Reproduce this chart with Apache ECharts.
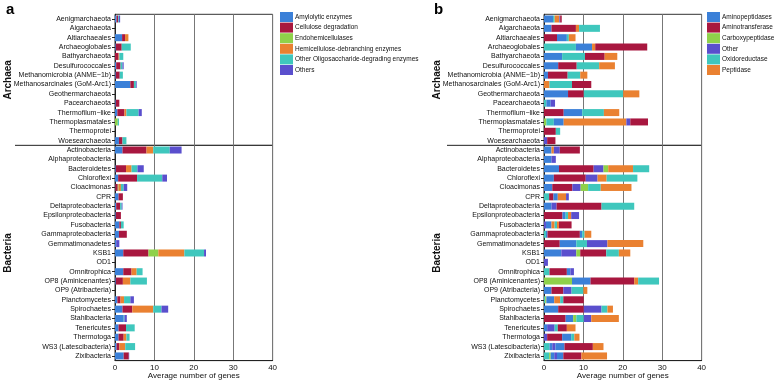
<!DOCTYPE html>
<html>
<head>
<meta charset="utf-8">
<script src="https://cdn.jsdelivr.net/npm/echarts@6/dist/echarts.min.js"></script>
<style>
  html, body { margin: 0; padding: 0; background: #fff; }
  #main { width: 778px; height: 383px; }
</style>
</head>
<body>
<div id="main"></div>
<script>
var archaea = ['Aenigmarchaeota', 'Aigarchaeota', 'Altiarchaeales', 'Archaeoglobales', 'Bathyarchaeota',
  'Desulfurococcales', 'Methanomicrobia (ANME\u22121b)', 'Methanosarcinales (GoM-Arc1)', 'Geothermarchaeota',
  'Pacearchaeota', 'Thermofilum\u2212like', 'Thermoplasmatales', 'Thermoprotei', 'Woesearchaeota'];
var bacteria = ['Actinobacteria', 'Alphaproteobacteria', 'Bacteroidetes', 'Chloroflexi', 'Cloacimonas', 'CPR',
  'Deltaproteobacteria', 'Epsilonproteobacteria', 'Fusobacteria', 'Gammaproteobacteria', 'Gemmatimonadetes',
  'KSB1', 'OD1', 'Omnitrophica', 'OP8 (Aminicenantes)', 'OP9 (Atribacteria)', 'Planctomycetes', 'Spirochaetes',
  'Stahlbacteria', 'Tenericutes', 'Thermotoga', 'WS3 (Latescibacteria)', 'Zixibacteria'];

// panel a : 14 archaea values, then 23 bacteria values
var amylolytic = [0.4, 0, 1.8, 0.2, 0, 0.3, 0.2, 3.9, 0, 0.2, 0.6, 0, 0, 1.0,
  1.9, 0, 0.2, 0.8, 0.1, 0.9, 0.3, 0.2, 1.1, 1.0, 0.3, 2.1, 0, 2.1, 0.2, 0, 0.6, 1.9, 2.2, 0.9, 0.9, 0.4, 2.2];
var cellulose = [0.4, 0, 0.75, 1.5, 0.9, 1.1, 1.0, 0.9, 0, 0.9, 1.8, 0, 0, 0.9,
  6.1, 0, 2.6, 4.8, 0.6, 1.1, 1.0, 1.3, 0.4, 2.0, 0, 6.4, 0, 2.1, 1.8, 0, 0.8, 2.5, 0, 1.9, 1.3, 0.7, 1.3];
var endohemi = [0, 0, 0, 0, 0, 0, 0, 0, 0, 0, 0, 0.7, 0, 0,
  0, 0, 0, 0, 0.2, 0, 0, 0, 0, 0, 0, 2.5, 0, 0, 0, 0, 0, 0, 0, 0, 0, 0, 0];
var hemideb = [0, 0, 0.85, 0, 0.2, 0, 0, 0, 0, 0, 0.5, 0, 0, 0,
  1.7, 0, 1.4, 0, 0.6, 0, 0, 0, 0, 0, 0, 6.6, 0, 1.3, 1.9, 0, 0.9, 5.3, 0, 0, 0.7, 1.5, 0];
var otherOligo = [0.2, 0, 0, 2.3, 1.0, 0.5, 0.8, 0.5, 0, 0, 3.1, 0.3, 0, 1.0,
  4.2, 0, 1.5, 6.4, 0.7, 0, 0.4, 0, 0.7, 0, 0, 5.0, 0, 1.5, 4.2, 0, 1.6, 2.1, 0.2, 2.2, 0.8, 2.5, 0];
var others = [0.3, 0, 0, 0, 0, 0.3, 0, 0.2, 0, 0, 0.8, 0, 0, 0,
  3.0, 0, 1.6, 1.2, 0.9, 0, 0.2, 0, 0, 0, 0.8, 0.5, 0, 0, 0, 0, 0.9, 1.7, 0.6, 0, 0, 0, 0.1];
var aNames = ['Amylolytic enzymes', 'Cellulose degradation', 'Endohemicellulases',
  'Hemicellulose-debranching enzymes', 'Other Oligosaccharide-degrading enzymes', 'Others'];
var aColors = ['#3b80d8', '#a8173f', '#8fd14a', '#ea8131', '#3fc7bd', '#5a4fcd'];

// panel b : each bar is a row of [class, length] segments, drawn in this order
var bNames = ['Aminopeptidases', 'Aminotransferase', 'Carboxypeptidase', 'Other', 'Oxidoreductase', 'Peptidase'];
var bKeys = ['A', 'T', 'C', 'O', 'X', 'P'];
var bArchaea = [
  [['A', 2.3], ['X', 0.4], ['P', 1.2], ['O', 0.2], ['T', 0.4]],
  [['A', 1.9], ['T', 6.2], ['P', 0.8], ['X', 5.3]],
  [['T', 3.3], ['A', 2.5], ['X', 0.5], ['P', 1.7]],
  [['X', 8.1], ['A', 4.1], ['P', 0.8], ['T', 13.2]],
  [['A', 4.6], ['X', 5.8], ['T', 5.0], ['P', 3.2]],
  [['A', 3.6], ['T', 4.7], ['X', 5.7], ['P', 4.0]],
  [['A', 1.0], ['T', 5.0], ['X', 3.2], ['P', 1.8]],
  [['P', 1.4], ['X', 5.7], ['T', 4.9]],
  [['A', 6.1], ['T', 4.0], ['X', 10.0], ['P', 4.1]],
  [['X', 0.6], ['A', 1.1], ['O', 1.1]],
  [['T', 5.0], ['A', 4.7], ['X', 5.5], ['P', 3.9]],
  [['C', 0.6], ['X', 1.9], ['A', 2.5], ['P', 15.9], ['O', 1.0], ['T', 4.5]],
  [['T', 3.0], ['X', 1.1]],
  [['O', 0.8], ['T', 2.1]]
];
var bBacteria = [
  [['A', 1.9], ['P', 0.6], ['O', 1.5], ['T', 5.1]],
  [['A', 1.9], ['O', 1.1]],
  [['A', 3.8], ['T', 8.8], ['O', 2.5], ['C', 1.2], ['P', 6.3], ['X', 4.1]],
  [['A', 2.5], ['T', 8.1], ['O', 3.0], ['P', 2.3], ['X', 7.8]],
  [['A', 2.1], ['T', 5.1], ['O', 2.1], ['C', 1.9], ['X', 3.2], ['P', 7.8]],
  [['X', 1.3], ['T', 1.1], ['A', 1.1], ['P', 2.1], ['O', 0.7]],
  [['A', 1.9], ['O', 1.3], ['T', 11.4], ['X', 8.3]],
  [['T', 4.7], ['A', 0.8], ['X', 0.6], ['P', 0.8], ['O', 2.0]],
  [['O', 0.5], ['A', 1.4], ['P', 0.8], ['X', 0.6], ['P', 0.5], ['T', 3.2]],
  [['X', 0.5], ['A', 0.4], ['T', 8.2], ['A', 0.6], ['X', 0.6], ['P', 1.7]],
  [['T', 4.0], ['A', 4.2], ['X', 2.7], ['O', 5.2], ['P', 9.1]],
  [['A', 4.4], ['O', 3.8], ['C', 1.0], ['T', 6.6], ['X', 3.2], ['P', 2.9]],
  [['O', 1.0]],
  [['X', 1.4], ['T', 4.4], ['A', 0.9], ['O', 0.9]],
  [['C', 7.1], ['A', 4.7], ['T', 11.1], ['P', 1.0], ['X', 5.3]],
  [['A', 1.9], ['T', 3.0], ['O', 2.1], ['X', 3.0], ['P', 1.0]],
  [['X', 0.3], ['C', 0.3], ['A', 2.0], ['P', 1.5], ['X', 0.8], ['T', 5.2]],
  [['A', 3.6], ['T', 6.5], ['O', 4.5], ['X', 1.5], ['P', 1.4]],
  [['T', 5.5], ['A', 1.9], ['C', 0.8], ['X', 1.9], ['O', 1.9], ['P', 7.0]],
  [['A', 0.8], ['O', 1.9], ['X', 0.8], ['T', 2.3], ['P', 2.2]],
  [['O', 0.8], ['T', 3.8], ['A', 2.3], ['X', 0.8], ['P', 1.3]],
  [['X', 1.4], ['A', 0.7], ['O', 0.8], ['A', 2.3], ['T', 7.2], ['P', 2.7]],
  [['X', 1.3], ['C', 0.4], ['A', 0.9], ['O', 0.7], ['A', 1.6], ['T', 4.6], ['P', 6.5]]
];
var bColors = { A: '#3b80d8', T: '#a8173f', C: '#8fd14a', O: '#5a4fcd', X: '#3fc7bd', P: '#ea8131' };

var chart = echarts.init(document.getElementById('main'));
var FONT = 'Liberation Sans, Arial, sans-serif';
var rowH = 9.36, top0 = 14.3, plotW = 157.6;
var hA = archaea.length * rowH, hB = bacteria.length * rowH;
var lefts = [115, 544];

var grids = [], xAxes = [], yAxes = [], series = [];
lefts.forEach(function (left) {
  [[top0, hA], [top0 + hA, hB]].forEach(function (g, j) {
    grids.push({
      left: left, top: g[0], width: plotW, height: g[1],
      show: true, borderColor: '#333', borderWidth: 1, backgroundColor: 'transparent',
      outerBoundsMode: 'none', containLabel: false
    });
    var bottom = j === 1;
    xAxes.push({
      gridIndex: grids.length - 1, type: 'value', min: 0, max: 40, interval: 10,
      axisLine: { show: bottom, lineStyle: { color: '#222', width: 1 } },
      axisTick: { show: false },
      axisLabel: { show: bottom, fontSize: 8, color: '#111', margin: 3, fontFamily: FONT },
      splitLine: { show: true, lineStyle: { color: '#777', width: 1 } },
      name: bottom ? 'Average number of genes' : '',
      nameLocation: 'middle', nameGap: 11, nameMoveOverlap: false,
      nameTextStyle: { fontSize: 8, color: '#111', fontFamily: FONT }
    });
    yAxes.push({
      gridIndex: grids.length - 1, type: 'category', inverse: true,
      data: bottom ? bacteria : archaea,
      axisLine: { show: true, lineStyle: { color: '#222', width: 1 } },
      axisTick: { show: true, length: 3, alignWithLabel: true, lineStyle: { color: '#222' } },
      axisLabel: { fontSize: 7, color: '#111', margin: 4, interval: 0, fontFamily: FONT },
      name: bottom ? 'Bacteria' : 'Archaea',
      nameLocation: 'middle', nameRotate: 90, nameGap: 102, nameMoveOverlap: false,
      nameTextStyle: { fontSize: 10, fontWeight: 'bold', color: '#111', fontFamily: FONT }
    });
  });
});

// panel a: one series per enzyme class, stacked
[amylolytic, cellulose, endohemi, hemideb, otherOligo, others].forEach(function (vals, i) {
  [0, 1].forEach(function (g) {
    series.push({
      name: aNames[i], type: 'bar', stack: 's' + g, xAxisIndex: g, yAxisIndex: g,
      barWidth: 7, itemStyle: { color: aColors[i] },
      data: g === 0 ? vals.slice(0, archaea.length) : vals.slice(archaea.length)
    });
  });
});

// panel b: legend-only series, then the k-th segment of every row
bNames.forEach(function (n, i) {
  series.push({
    name: n, type: 'bar', stack: 's2', xAxisIndex: 2, yAxisIndex: 2, barWidth: 7,
    itemStyle: { color: bColors[bKeys[i]] }, data: []
  });
});
[[2, bArchaea], [3, bBacteria]].forEach(function (p) {
  var rows = p[1];
  var maxK = Math.max.apply(null, rows.map(function (r) { return r.length; }));
  for (var k = 0; k < maxK; k++) {
    series.push({
      type: 'bar', stack: 's' + p[0], xAxisIndex: p[0], yAxisIndex: p[0], barWidth: 7,
      data: rows.map(function (r) {
        if (!r[k]) return '-';
        return { value: r[k][1], itemStyle: { color: bColors[r[k][0]] } };
      })
    });
  }
});

var sepY = top0 + hA;
var option = {
  animation: false,
  backgroundColor: '#fff',
  textStyle: { fontFamily: FONT },
  title: [
    { text: 'a', left: 1, top: -3, textStyle: { fontSize: 15, fontWeight: 'bold', color: '#000', fontFamily: FONT } },
    { text: 'b', left: 429, top: -3, textStyle: { fontSize: 15, fontWeight: 'bold', color: '#000', fontFamily: FONT } }
  ],
  legend: [
    { data: aNames, orient: 'vertical', left: 280, top: 12, padding: 0, itemWidth: 13, itemHeight: 10,
      itemGap: 0.6, icon: 'rect', selectedMode: false,
      textStyle: { fontSize: 6.5, color: '#111', padding: [0, 0, 0, -3], fontFamily: FONT } },
    { data: bNames, orient: 'vertical', left: 707, top: 12, padding: 0, itemWidth: 13, itemHeight: 10,
      itemGap: 0.6, icon: 'rect', selectedMode: false,
      textStyle: { fontSize: 6.5, color: '#111', padding: [0, 0, 0, -3], fontFamily: FONT } }
  ],
  grid: grids,
  xAxis: xAxes,
  yAxis: yAxes,
  series: series,
  graphic: [
    { type: 'line', shape: { x1: 15, y1: sepY, x2: lefts[0], y2: sepY }, style: { stroke: '#222', lineWidth: 1 } },
    { type: 'line', shape: { x1: 447, y1: sepY, x2: lefts[1], y2: sepY }, style: { stroke: '#222', lineWidth: 1 } }
  ]
};
chart.setOption(option);
</script>
</body>
</html>
